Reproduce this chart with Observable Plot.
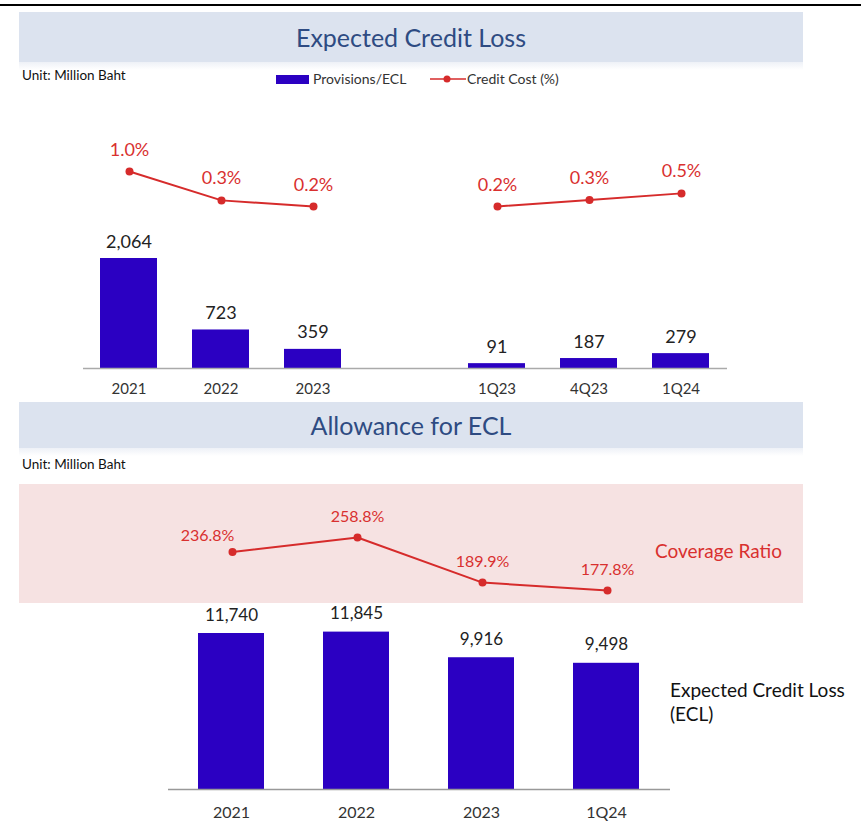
<!DOCTYPE html>
<html><head><meta charset="utf-8">
<script src="https://cdn.jsdelivr.net/npm/d3@7"></script>
<script src="https://cdn.jsdelivr.net/npm/@observablehq/plot@0.6"></script>
<style>
body{margin:0;background:#fff;}
#root{position:relative;width:861px;height:821px;overflow:hidden;font-family:Lato,"Open Sans",sans-serif;background:#fff;}
.abs{position:absolute;}
.band{position:absolute;left:19px;width:784px;background:#DCE3EF;display:flex;align-items:center;justify-content:center;color:#2E4B82;font-size:25px;}
.band::after{content:"";position:absolute;left:0;right:0;top:100%;height:8px;background:linear-gradient(#eef1f7,rgba(255,255,255,0));}
.unit{position:absolute;left:22px;font-size:13.5px;color:#111;}
.leg{position:absolute;font-size:14px;color:#333;}
svg{overflow:visible;}
</style></head>
<body><div id="root">
<div class="abs" style="top:4px;left:0;width:861px;height:2px;background:#000"></div>
<div class="band" style="top:12px;height:50px">Expected Credit Loss</div>
<div class="unit" style="top:67px">Unit: Million Baht</div>
<div class="abs" style="top:75px;left:276px;width:33px;height:9px;background:#2B00C2"></div>
<div class="leg" style="top:70px;left:313px">Provisions/ECL</div>
<svg class="abs" style="top:74px;left:430px" width="36" height="10"><line x1="0" x2="36" y1="5" y2="5" stroke="#D62B2B" stroke-width="1.6"/><circle cx="17" cy="5" r="3.5" fill="#D62B2B"/></svg>
<div class="leg" style="top:70px;left:467px">Credit Cost (%)</div>
<div id="p1" class="abs" style="top:100px;left:0"></div>
<div id="p2" class="abs" style="top:100px;left:0"></div>
<div class="band" style="top:402px;height:46px">Allowance for ECL</div>
<div class="unit" style="top:456px">Unit: Million Baht</div>
<div class="abs" style="top:484px;left:19px;width:784px;height:119px;background:#F6E2E2"></div>
<div id="p3" class="abs" style="top:480px;left:0"></div>
<div id="p4" class="abs" style="top:480px;left:0"></div>
<div class="abs" style="top:539px;left:655px;font-size:19px;color:#D9302F">Coverage Ratio</div>
<div class="abs" style="top:678px;left:670px;font-size:19px;line-height:24px;color:#111">Expected Credit Loss<br>(ECL)</div>
</div>
<script>
// ---- data ----
const eclCategories = ["2021","2022","2023","","1Q23","4Q23","1Q24"];
const eclPeriods = ["2021","2022","2023","1Q23","4Q23","1Q24"];
const eclGroups = ["annual","annual","annual","quarter","quarter","quarter"];
const provisions = [2064, 723, 359, 91, 187, 279];
const creditCost = [1.0, 0.34, 0.2, 0.2, 0.35, 0.5];
const creditCostLabels = ["1.0%","0.3%","0.2%","0.2%","0.3%","0.5%"];

const allowPeriods = ["2021","2022","2023","1Q24"];
const allowanceECL = [11740, 11845, 9916, 9498];
const coverageRatio = [236.8, 258.8, 189.9, 177.8];

const BAR = "#2B00C2", RED = "#D62B2B", LRED = "#D9302F";
const FONT = "Lato, 'Open Sans', sans-serif";
const fmt = d3.format(",");

const eclRows = eclPeriods.map((p,i)=>({p, g:eclGroups[i], v:provisions[i], c:creditCost[i], cl:creditCostLabels[i]}));
const allowRows = allowPeriods.map((p,i)=>({p, v:allowanceECL[i], r:coverageRatio[i]}));

const base = {width:861, style:{fontFamily:FONT, background:"transparent", overflow:"visible"}};
const xTop = {domain:eclCategories, paddingInner:0.38, paddingOuter:0.19};
const xBot = {domain:allowPeriods, paddingInner:0.47, paddingOuter:0.235};

// top bars
document.getElementById("p1").append(Plot.plot({
  ...base, height:300, marginLeft:83, marginRight:134, marginTop:0, marginBottom:32,
  x:{...xTop, label:null},
  y:{domain:[0,2064], range:[268,158], axis:null},
  marks:[
    Plot.barY(eclRows,{x:"p", y:"v", fill:BAR}),
    Plot.ruleY([0],{stroke:"#aaa", strokeWidth:1.5}),
    Plot.text(eclRows,{x:"p", y:"v", text:d=>fmt(d.v), lineAnchor:"bottom", dy:-11, fontSize:18, fill:"#222"}),
    Plot.axisX({tickSize:0, tickPadding:15, fontSize:15, color:"#333", tickFormat:d=>d, label:null})
  ]
}));
// top credit cost line
document.getElementById("p2").append(Plot.plot({
  ...base, height:300, marginLeft:83, marginRight:134, marginTop:0, marginBottom:32,
  x:{...xTop, axis:null},
  y:{domain:[0.2,1.0], range:[106,71], axis:null},
  marks:[
    Plot.lineY(eclRows,{x:"p", y:"c", z:"g", stroke:RED, strokeWidth:2}),
    Plot.dot(eclRows,{x:"p", y:"c", r:4, fill:RED}),
    Plot.text(eclRows,{x:"p", y:"c", text:"cl", lineAnchor:"bottom", dy:-16, fontSize:18, fill:LRED})
  ]
}));
// bottom bars
document.getElementById("p3").append(Plot.plot({
  ...base, height:341, marginLeft:168, marginRight:191, marginTop:0, marginBottom:32,
  x:{...xBot, label:null},
  y:{domain:[0,11740], range:[309,153], axis:null},
  marks:[
    Plot.barY(allowRows,{x:"p", y:"v", fill:BAR}),
    Plot.ruleY([0],{stroke:"#999", strokeWidth:1.5}),
    Plot.text(allowRows,{x:"p", y:"v", text:d=>fmt(d.v), lineAnchor:"bottom", dy:-13, fontSize:17, fill:"#222"}),
    Plot.axisX({tickSize:0, tickPadding:17, fontSize:16, color:"#333", label:null})
  ]
}));
// coverage ratio line
document.getElementById("p4").append(Plot.plot({
  ...base, height:341, marginLeft:168, marginRight:191, marginTop:0, marginBottom:32,
  x:{...xBot, axis:null},
  y:{domain:[177.8,258.8], range:[110,57], axis:null},
  marks:[
    Plot.lineY(allowRows,{x:"p", y:"r", stroke:RED, strokeWidth:2}),
    Plot.dot(allowRows,{x:"p", y:"r", r:4, fill:RED}),
    Plot.text(allowRows.slice(0,1),{x:"p", y:"r", text:d=>d.r.toFixed(1)+"%", lineAnchor:"bottom", dx:-25, dy:-11, fontSize:16, fill:LRED}),
    Plot.text(allowRows.slice(1),{x:"p", y:"r", text:d=>d.r.toFixed(1)+"%", lineAnchor:"bottom", dy:-16, fontSize:16, fill:LRED})
  ]
}));
</script>
</body></html>
